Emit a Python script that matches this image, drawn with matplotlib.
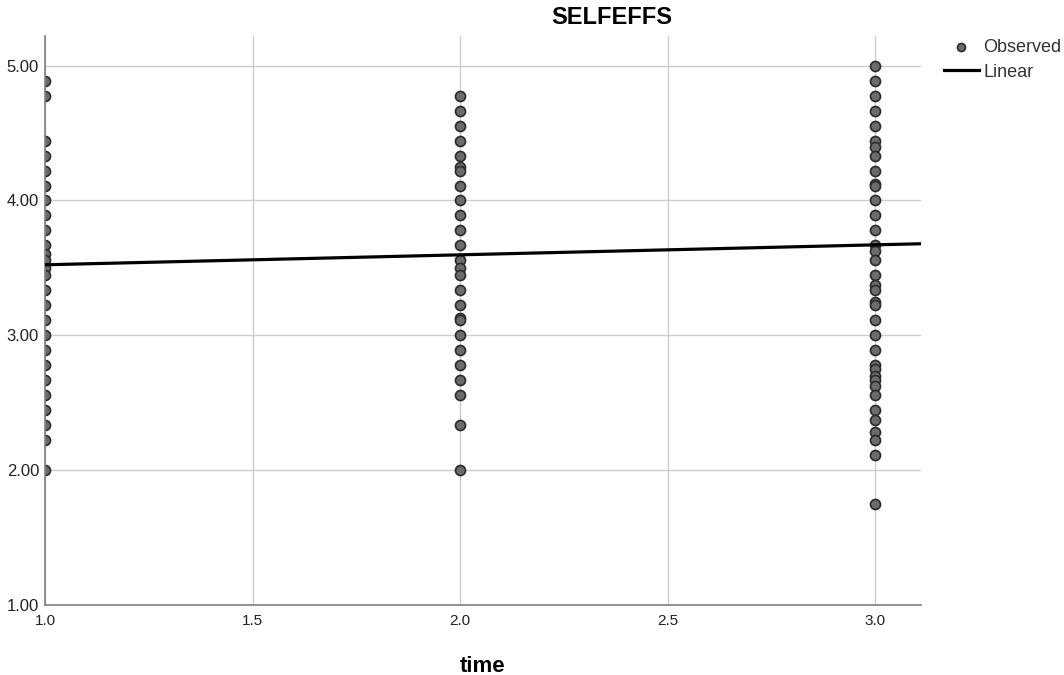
import numpy
from matplotlib import pyplot

# observed SELFEFFS scores at each time point
time_points = [1.0, 2.0, 3.0]
scores_t1 = [4.889, 4.778, 4.444, 4.333, 4.222, 4.111, 4.0, 3.889, 3.778,
             3.667, 3.6, 3.556, 3.5, 3.444, 3.333, 3.222, 3.111, 3.0, 2.889,
             2.778, 2.667, 2.556, 2.444, 2.333, 2.222, 2.0]
scores_t2 = [4.778, 4.667, 4.556, 4.444, 4.333, 4.25, 4.222, 4.111, 4.0,
             3.889, 3.778, 3.667, 3.556, 3.5, 3.444, 3.333, 3.222, 3.125,
             3.111, 3.0, 2.889, 2.778, 2.667, 2.556, 2.333, 2.0]
scores_t3 = [5.0, 4.889, 4.778, 4.667, 4.556, 4.444, 4.4, 4.333, 4.222,
             4.125, 4.111, 4.0, 3.889, 3.778, 3.667, 3.625, 3.556, 3.444,
             3.375, 3.333, 3.25, 3.222, 3.111, 3.0, 2.889, 2.778, 2.75,
             2.7, 2.667, 2.625, 2.556, 2.444, 2.375, 2.286, 2.222, 2.111,
             1.75]

# linear fit shown in the chart
fit_intercept = 3.449
fit_slope = 0.074

x_ticks = [1.0, 1.5, 2.0, 2.5, 3.0]
y_ticks = [1.0, 2.0, 3.0, 4.0, 5.0]


def main():
    pyplot.rcParams["font.family"] = ["Liberation Sans", "DejaVu Sans"]
    figure = pyplot.figure(figsize=(10.64, 6.75), dpi=100)
    axis = figure.add_axes([0.0423, 0.1037, 0.8233, 0.843])

    xs = []
    ys = []
    for t, scores in zip(time_points, [scores_t1, scores_t2, scores_t3]):
        xs += [t] * len(scores)
        ys += scores

    axis.set_xlim(1.0, 3.11)
    axis.set_ylim(1.0, 5.22)

    axis.scatter(xs, ys, s=52, facecolor="#6b6b6b", edgecolor="#2b2b2b",
                 linewidth=1.2, zorder=2.2, label="Observed")

    line_x = numpy.array(axis.get_xlim())
    axis.plot(line_x, fit_intercept + fit_slope * line_x, color="black",
              linewidth=2.3, zorder=4, label="Linear")

    axis.set_xticks(x_ticks)
    axis.set_yticks(y_ticks)
    axis.set_xticklabels([f"{v:.1f}" for v in x_ticks])
    axis.set_yticklabels([f"{v:.2f}" for v in y_ticks])
    axis.tick_params(length=0, colors="#222222")
    axis.tick_params(axis="x", labelsize=11, pad=6.5)
    axis.tick_params(axis="y", labelsize=12, pad=4.3)
    axis.grid(True, color="#cccccc", linewidth=1.0, zorder=0)
    axis.set_axisbelow(True)

    for side in ["top", "right"]:
        axis.spines[side].set_visible(False)
    for side in ["left", "bottom"]:
        axis.spines[side].set_color("#808080")
        axis.spines[side].set_linewidth(1.2)
        axis.spines[side].set_zorder(2.5)

    axis.set_xlabel("time", fontsize=16, fontweight="bold", va="baseline")
    axis.xaxis.set_label_coords(0.5, -0.1178)
    figure.text(0.575, 1 - 18 / 675, "SELFEFFS", fontsize=17,
                fontweight="bold", ha="center", va="center")

    legend = axis.legend(loc="upper left",
                         bbox_to_anchor=(944 / 1064, 1 - 39 / 675),
                         bbox_transform=figure.transFigure, frameon=False,
                         fontsize=13, handlelength=1.92, handletextpad=0.27,
                         labelspacing=0.42, borderaxespad=0.0, borderpad=0.0,
                         markerscale=0.8)
    for text in legend.get_texts():
        text.set_color("#333333")

    figure.savefig("out.png")


if __name__ == "__main__":
    main()
